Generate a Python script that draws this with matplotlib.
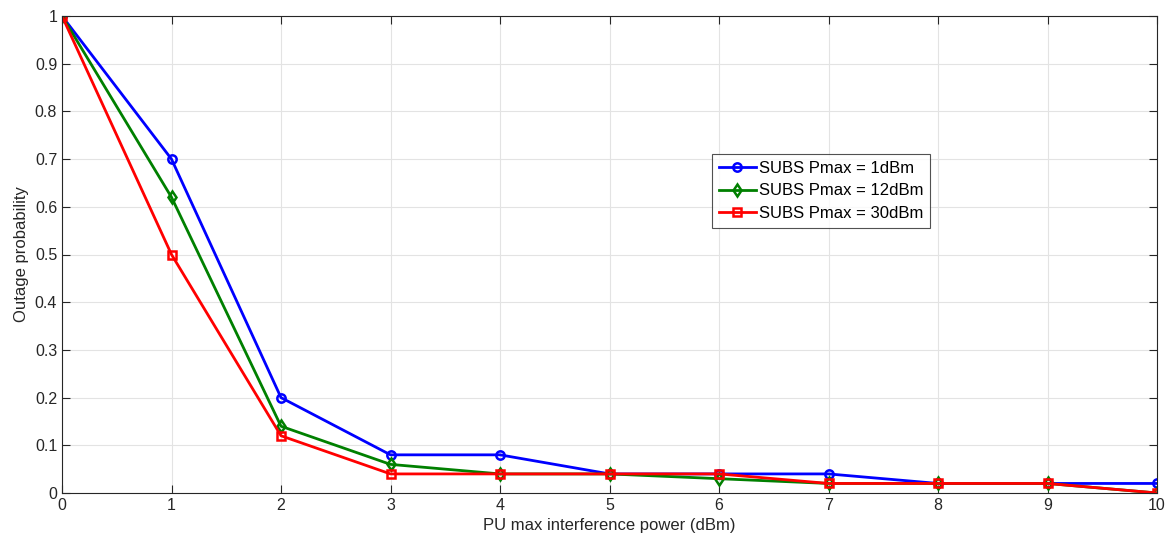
import matplotlib
matplotlib.use("Agg")
import matplotlib.pyplot as plt

# PU max interference power (dBm)
x_vals = [0, 1, 2, 3, 4, 5, 6, 7, 8, 9, 10]

# Outage probability for each SUBS power budget
outage_1dbm = [1, 0.7, 0.2, 0.08, 0.08, 0.04, 0.04, 0.04, 0.02, 0.02, 0.02]
outage_12dbm = [1, 0.62, 0.14, 0.06, 0.04, 0.04, 0.03, 0.02, 0.02, 0.02, 0]
outage_30dbm = [1, 0.5, 0.12, 0.04, 0.04, 0.04, 0.04, 0.02, 0.02, 0.02, 0]

series_labels = ["SUBS Pmax = 1dBm", "SUBS Pmax = 12dBm", "SUBS Pmax = 30dBm"]
x_ticks = list(range(0, 11))
y_ticks = [0, 0.1, 0.2, 0.3, 0.4, 0.5, 0.6, 0.7, 0.8, 0.9, 1]

plt.rcParams["font.family"] = ["Liberation Sans", "DejaVu Sans"]

fig = plt.figure(figsize=(11.68, 5.5), dpi=100)
ax = fig.add_axes([62 / 1168, 57 / 550, 1095 / 1168, 477 / 550])

ax.plot(x_vals, outage_1dbm, color="#0000ff", linewidth=2, marker="o",
        markersize=6, markerfacecolor="none", markeredgewidth=1.8,
        label=series_labels[0])
ax.plot(x_vals, outage_12dbm, color="#008000", linewidth=2, marker="d",
        markersize=6, markerfacecolor="none", markeredgewidth=1.8,
        label=series_labels[1])
ax.plot(x_vals, outage_30dbm, color="#ff0000", linewidth=2, marker="s",
        markersize=5.5, markerfacecolor="none", markeredgewidth=1.8,
        label=series_labels[2])

ax.set_xlim(0, 10)
ax.set_ylim(0, 1)
ax.set_xticks(x_ticks)
ax.set_yticks(y_ticks)
ax.set_yticklabels(["0", "0.1", "0.2", "0.3", "0.4", "0.5", "0.6", "0.7",
                    "0.8", "0.9", "1"])
ax.grid(True, color="#e3e3e3", linewidth=0.8)
ax.set_axisbelow(True)
ax.tick_params(direction="in", length=6, width=0.8, colors="#262626",
               labelsize=11.5, top=True, right=True)
for spine in ax.spines.values():
    spine.set_color("#262626")
    spine.set_linewidth(0.8)

ax.set_xlabel("PU max interference power (dBm)", fontsize=12, color="#262626")
ax.set_ylabel("Outage probability", fontsize=12, color="#262626")

leg = ax.legend(loc="upper left", bbox_to_anchor=(0.594, 0.71),
                fontsize=12, frameon=True, fancybox=False,
                handlelength=2.2, handletextpad=0.2, borderpad=0.4,
                labelspacing=0.45, borderaxespad=0)
leg.get_frame().set_edgecolor("#262626")
leg.get_frame().set_linewidth(0.8)

fig.savefig("out.png", dpi=100)
